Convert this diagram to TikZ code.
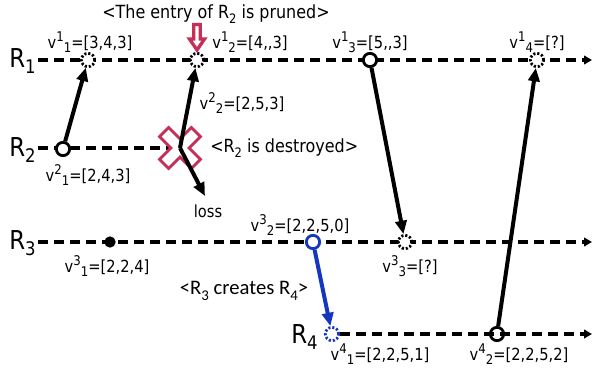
\documentclass[tikz,border=0pt]{standalone}
\usepackage{fontspec}
\usepackage{graphicx}
\setmainfont{DejaVu Sans}[FakeStretch=0.88]
\newfontfamily\calfont{Carlito}
\usetikzlibrary{arrows.meta}
\definecolor{prune}{RGB}{196,48,88}
\definecolor{cblue}{RGB}{20,55,190}
\newcommand\sbs[1]{\raisebox{-0.25em}{\scalebox{0.72}{#1}}}
\newcommand\evl[3]{v\raisebox{0.42em}{\scalebox{0.8}{#1}}\raisebox{-0.22em}{\scalebox{0.8}{#2}}=#3}
\begin{document}
\begin{tikzpicture}[x=0.75pt,y=-0.75pt,
  tl/.style={dash pattern=on 7.5pt off 4.5pt, line width=2.4pt},
  tlend/.style={tl,-{Triangle[length=6pt,width=6.5pt]}},
  ev/.style={circle, draw, line width=2.1pt, minimum size=10pt, inner sep=0pt, fill=white},
  evd/.style={ev, dash pattern=on 1.6pt off 1.4pt},
  msg/.style={line width=3pt, -{Triangle[length=10pt,width=8.5pt]}},
  lbl/.style={font=\fontsize{12.5}{15}\selectfont, inner sep=0pt},
  rl/.style={font=\fontsize{19.5}{22}\selectfont, inner sep=0pt},
  ttl/.style={font=\fontsize{13.6}{16}\selectfont, inner sep=0pt}]
\useasboundingbox (0,0) rectangle (593,371);
% timelines
\coordinate (r1s) at (38,60); \coordinate (r1e) at (592,60);
\coordinate (r2s) at (38,148); \coordinate (x2) at (180,148);
\coordinate (r3s) at (38,242); \coordinate (r3e) at (592,242);
\coordinate (r4e) at (592,334);
\coordinate (lossend) at (205,196);
\draw[tlend] (r1s) -- (r1e);
\draw[tl] (r2s) -- (x2);
\draw[tlend] (r3s) -- (r3e);
% process labels
\node[rl, anchor=base west] (R1) at (9,67) {R\sbs{1}};
\node[rl, anchor=base west] (R2) at (9,156) {R\sbs{2}};
\node[rl, anchor=base west] (R3) at (9,249) {R\sbs{3}};
\node[rl, anchor=base west] (R4) at (291,343) {R\sbs{4}};
% destroyed cross
\begin{scope}[shift={(x2)}]
  \draw[prune, line width=2.1pt, fill=white, line join=miter]
    (0,9.2) -- (11.3,20.5) -- (20.5,11.3) -- (9.2,0) -- (20.5,-11.3) -- (11.3,-20.5)
    -- (0,-9.2) -- (-11.3,-20.5) -- (-20.5,-11.3) -- (-9.2,0) -- (-20.5,11.3) -- (-11.3,20.5) -- cycle;
\end{scope}
% pruned arrow
\draw[prune, line width=2.5pt, fill=white, line join=miter]
  (193.8,24.5) -- (200.2,24.5) -- (200.2,39) -- (204.5,39) -- (197,50) -- (189.5,39) -- (193.8,39) -- cycle;
% events
\node[evd] (v11) at (88,60) {};
\node[evd] (v12) at (197,60) {};
\node[ev] (v13) at (370,60) {};
\node[evd] (v14) at (537,60) {};
\node[ev] (v21) at (63,149) {};
\node[circle, fill=black, minimum size=8.5pt, inner sep=0pt] (v31) at (110,242) {};
\node[ev, draw=cblue] (v32) at (313,242) {};
\node[evd] (v33) at (405,242) {};
\node[evd, draw=cblue] (v41) at (332,334) {};
\node[ev] (v42) at (497,334) {};
\draw[tlend] (v41.east) -- (r4e);
% messages
\draw[msg] (v21) -- (v11);
\draw[msg] (x2) -- (v12);
\draw[msg] (x2) -- (lossend);
\draw[msg] (v13) -- (v33);
\draw[msg, cblue] (v32) -- (v41);
\draw[msg] (v42) -- (v14);
% labels
\node[ttl] (title) at (216,14) {<The entry of R\sbs{2} is pruned>};
\node[lbl] (l11) at (90,42) {\evl{1}{1}{[3,4,3]}};
\node[lbl] (l12) at (250,42) {\evl{1}{2}{[4,{},3]}};
\node[lbl] (l13) at (370,42) {\evl{1}{3}{[5,{},3]}};
\node[lbl] (l14) at (537,42) {\evl{1}{4}{[?]}};
\node[lbl] (l22) at (242,103) {\evl{2}{2}{[2,5,3]}};
\node[lbl] (l21) at (88,175) {\evl{2}{1}{[2,4,3]}};
\node[lbl] (l31) at (107,266) {\evl{3}{1}{[2,2,4]}};
\node[lbl] (l32) at (300,225) {\evl{3}{2}{[2,2,5,0]}};
\node[lbl] (l33) at (410,266) {\evl{3}{3}{[?]}};
\node[lbl] (l41) at (380,354) {\evl{4}{1}{[2,2,5,1]}};
\node[lbl] (l42) at (519,354) {\evl{4}{2}{[2,2,5,2]}};
\node[ttl, anchor=west] (destr) at (210,148) {<R\sbs{2} is destroyed>};
\node[lbl] (loss) at (208,211) {loss};
\node[inner sep=0pt, font=\calfont\fontsize{15.5}{18}\selectfont] (creates) at (244,291) {<R\sbs{3} creates R\sbs{4}>};
\end{tikzpicture}
\end{document}
